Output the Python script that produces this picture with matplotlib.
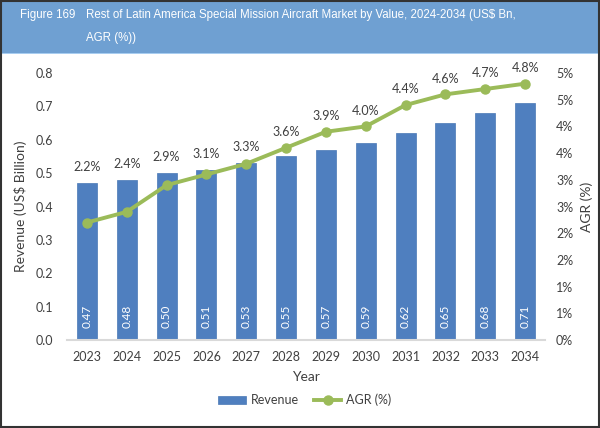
import matplotlib
matplotlib.use("Agg")
import numpy as np
from matplotlib import pyplot as plt
from matplotlib.patches import Rectangle

years = ["2023", "2024", "2025", "2026", "2027", "2028", "2029", "2030", "2031", "2032", "2033", "2034"]
revenue = [0.47, 0.48, 0.50, 0.51, 0.53, 0.55, 0.57, 0.59, 0.62, 0.65, 0.68, 0.71]
agr = [2.2, 2.4, 2.9, 3.1, 3.3, 3.6, 3.9, 4.0, 4.4, 4.6, 4.7, 4.8]

bar_col = "#4f7fbf"
line_col = "#9bbb59"
txt_col = "#404040"

plt.rcParams['font.family'] = ['Lato', 'DejaVu Sans']

fig = plt.figure(figsize=(6, 4.28), dpi=100)

# header band + frame
fig.patches.append(Rectangle((0, 1 - 53 / 428), 1, 53 / 428, transform=fig.transFigure,
                             facecolor="#6fa0d2", edgecolor="none", zorder=0))
fig.patches.append(Rectangle((0, 1 - 54 / 428), 1, 1.5 / 428, transform=fig.transFigure,
                             facecolor="#a8cdf0", edgecolor="none", zorder=1))
fig.patches.append(Rectangle((0.002, 0.003), 0.996, 0.994, transform=fig.transFigure,
                             facecolor="none", edgecolor="#333333", lw=1.5, zorder=2))
fig.text(20 / 600, 1 - 15 / 428, "Figure 169", color="white", fontsize=8.3,
         family=["Liberation Sans"], va="center")
fig.text(86 / 600, 1 - 15 / 428,
         "Rest of Latin America Special Mission Aircraft Market by Value, 2024-2034 (US$ Bn,",
         color="white", fontsize=8.3, family=["Liberation Sans"], va="center")
fig.text(86 / 600, 1 - 38 / 428, "AGR (%))", color="white", fontsize=8.3,
         family=["Liberation Sans"], va="center")

ax = fig.add_axes([67 / 600, 1 - 340 / 428, 478 / 600, 267 / 428])
x = np.arange(len(years))
bars = ax.bar(x, revenue, width=0.5, color=bar_col, edgecolor="#4a78b5", lw=0.5,
              label="Revenue", zorder=2)
ax.set_ylim(0, 0.8)
ax.set_xlim(-0.5, len(years) - 0.5)
ax.set_yticks(np.arange(0, 0.81, 0.1))
ax.set_yticklabels([f"{v:.1f}" for v in np.arange(0, 0.81, 0.1)])
ax.set_xticks(x)
ax.set_xticklabels(years)
for s in ["top", "right", "left"]:
    ax.spines[s].set_visible(False)
ax.spines["bottom"].set_color("#d9d9d9")
ax.spines["bottom"].set_linewidth(1.5)
ax.tick_params(axis="both", length=0, colors=txt_col, labelsize=9)
ax.tick_params(axis="x", pad=8)
ax.tick_params(axis="y", pad=10)
ax.set_xlabel("Year", color=txt_col, fontsize=10, labelpad=6)
ax.set_ylabel("Revenue (US$ Billion)", color=txt_col, fontsize=10, labelpad=6)

for xi, v in zip(x, revenue):
    ax.text(xi, 0.035, f"{v:.2f}", rotation=90, color="white", fontsize=8.5,
            ha="center", va="bottom", zorder=3)

ax2 = ax.twinx()
ax2.set_ylim(0, 5)
ax2.set_yticks(np.arange(0, 5.01, 0.5))
ax2.set_yticklabels([f"{int(np.floor(v + 0.5))}%" for v in np.arange(0, 5.01, 0.5)])
for s in ["top", "right", "left", "bottom"]:
    ax2.spines[s].set_visible(False)
ax2.tick_params(axis="y", length=0, colors=txt_col, labelsize=9, pad=8)
ax2.set_ylabel("AGR (%)", color=txt_col, fontsize=10, labelpad=5)
line, = ax2.plot(x, agr, color=line_col, lw=2.8, marker="o", markersize=6.5,
                 label="AGR (%)", zorder=4)

for xi, a, r in zip(x, agr, revenue):
    top = max(a, r / 0.8 * 5)
    ax2.annotate(f"{a:.1f}%", (xi, top), xytext=(0, 7), textcoords="offset points",
                 ha="center", va="bottom", fontsize=9, color=txt_col)

fig.legend([bars, line], ["Revenue", "AGR (%)"], loc="center",
           bbox_to_anchor=(305 / 600, 1 - 400 / 428), ncol=2, frameon=False,
           fontsize=9, labelcolor=txt_col, handlelength=2.2, columnspacing=1.2,
           handletextpad=0.4)

fig.savefig("out.png", dpi=100)
